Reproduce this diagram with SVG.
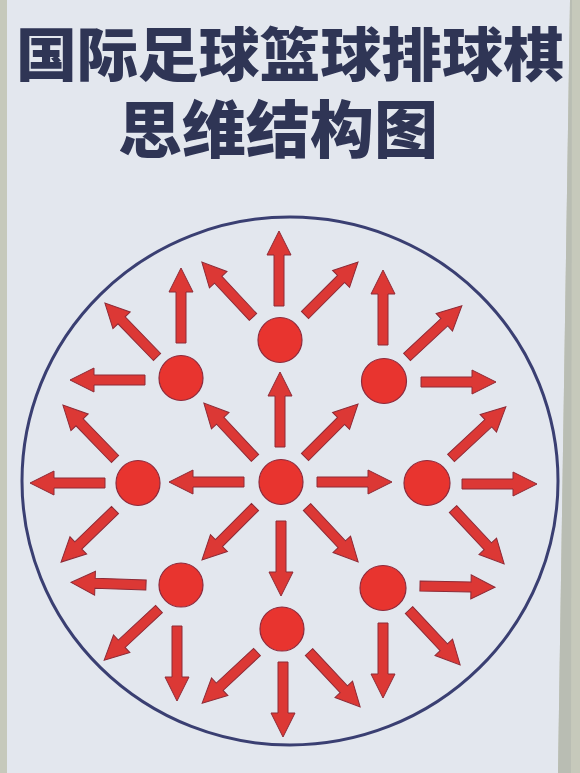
<svg xmlns="http://www.w3.org/2000/svg" xmlns:xlink="http://www.w3.org/1999/xlink" width="580" height="773" viewBox="0 0 580 773">
<style>
.title{font-family:"Noto Sans CJK SC","Noto Sans CJK TC",sans-serif;font-weight:900;fill:#2f3555}
.node{fill:#e8342f;stroke:#8e2a3c;stroke-width:1.2}
.arr{fill:#dc3835;stroke:#8e2a36;stroke-width:1}
</style>
<defs>
<path id="arr" d="M0,-5 L51,-5 L51,-12 L75,0 L51,12 L51,5 L0,5 Z"/>
</defs>
<rect width="580" height="773" fill="#c6c9bb"/>
<polygon points="7,0 570,0 558,773 7,773" fill="#e3e7ee"/>
<polygon points="558,773 570,0 572,0 571,773" fill="#b9bdb3"/>
<text class="title" x="290" y="76" font-size="58" text-anchor="middle" textLength="548" lengthAdjust="spacingAndGlyphs">国际足球篮球排球棋</text>
<text class="title" x="278" y="153" font-size="62" text-anchor="middle" textLength="320" lengthAdjust="spacingAndGlyphs">思维结构图</text>
<ellipse id="boundary" cx="290" cy="481" rx="268" ry="264" fill="none" stroke="#3a3f72" stroke-width="3"/>
<g id="connectors" class="arr">
<use xlink:href="#arr" transform="translate(279,306) rotate(-90)"/>
<use xlink:href="#arr" transform="translate(253,317) rotate(-133)"/>
<use xlink:href="#arr" transform="translate(305,315) rotate(-45)"/>
<use xlink:href="#arr" transform="translate(181,343) rotate(-90)"/>
<use xlink:href="#arr" transform="translate(157,357) rotate(-134)"/>
<use xlink:href="#arr" transform="translate(145,380) rotate(180)"/>
<use xlink:href="#arr" transform="translate(383,345) rotate(-90)"/>
<use xlink:href="#arr" transform="translate(407,357) rotate(-43)"/>
<use xlink:href="#arr" transform="translate(421,382) rotate(0)"/>
<use xlink:href="#arr" transform="translate(280,447) rotate(-90)"/>
<use xlink:href="#arr" transform="translate(255,458) rotate(-133)"/>
<use xlink:href="#arr" transform="translate(305,457) rotate(-45)"/>
<use xlink:href="#arr" transform="translate(244,482) rotate(180)"/>
<use xlink:href="#arr" transform="translate(317,482) rotate(0)"/>
<use xlink:href="#arr" transform="translate(115,459) rotate(-134)"/>
<use xlink:href="#arr" transform="translate(105,483) rotate(180)"/>
<use xlink:href="#arr" transform="translate(451,458) rotate(-43)"/>
<use xlink:href="#arr" transform="translate(462,484) rotate(0)"/>
<use xlink:href="#arr" transform="translate(255,507) rotate(135)"/>
<use xlink:href="#arr" transform="translate(281,521) rotate(90)"/>
<use xlink:href="#arr" transform="translate(307,507) rotate(47)"/>
<use xlink:href="#arr" transform="translate(115,510) rotate(136)"/>
<use xlink:href="#arr" transform="translate(453,509) rotate(47)"/>
<use xlink:href="#arr" transform="translate(146,585) rotate(182)"/>
<use xlink:href="#arr" transform="translate(159,609) rotate(137)"/>
<use xlink:href="#arr" transform="translate(177,626) rotate(90)"/>
<use xlink:href="#arr" transform="translate(420,586) rotate(1)"/>
<use xlink:href="#arr" transform="translate(409,610) rotate(47)"/>
<use xlink:href="#arr" transform="translate(383,623) rotate(90)"/>
<use xlink:href="#arr" transform="translate(257,652) rotate(137)"/>
<use xlink:href="#arr" transform="translate(283,662) rotate(90)"/>
<use xlink:href="#arr" transform="translate(309,652) rotate(47)"/>
</g>
<g id="node-top"><ellipse class="node" cx="280" cy="340" rx="22" ry="22.5"/></g>
<g id="node-upper-left"><ellipse class="node" cx="181" cy="378" rx="22" ry="22.5"/></g>
<g id="node-upper-right"><ellipse class="node" cx="384" cy="381" rx="22.5" ry="22.5"/></g>
<g id="node-left"><ellipse class="node" cx="138" cy="483" rx="22" ry="22.5"/></g>
<g id="node-center"><ellipse class="node" cx="281" cy="482" rx="22" ry="22.5"/></g>
<g id="node-right"><ellipse class="node" cx="427" cy="483" rx="23" ry="22.5"/></g>
<g id="node-lower-left"><ellipse class="node" cx="181" cy="585" rx="22" ry="22"/></g>
<g id="node-bottom"><ellipse class="node" cx="282" cy="629" rx="22" ry="22"/></g>
<g id="node-lower-right"><ellipse class="node" cx="383" cy="588" rx="23" ry="22.5"/></g>
</svg>
